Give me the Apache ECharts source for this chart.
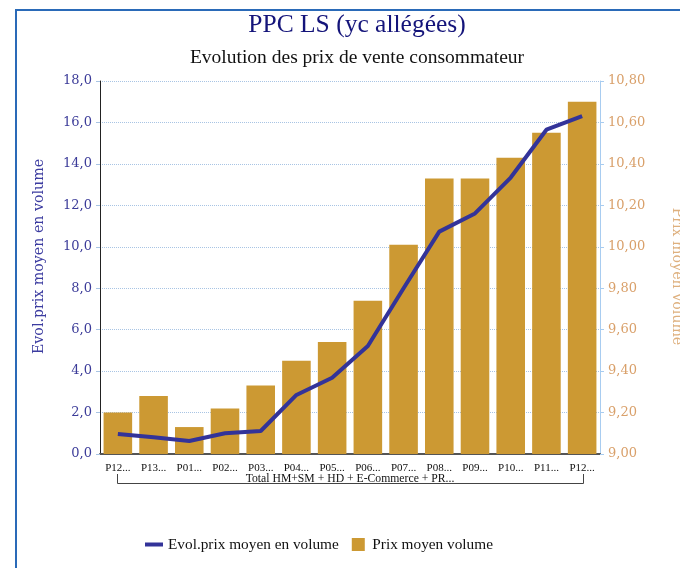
<!DOCTYPE html>
<html><head><meta charset="utf-8">
<script src="https://cdn.jsdelivr.net/npm/echarts@6/dist/echarts.min.js"></script>
<style>html,body{margin:0;padding:0;background:#fff}#c{width:680px;height:568px}</style>
</head><body><div id="c"></div>
<script>
var categories = ['P12...','P13...','P01...','P02...','P03...','P04...','P05...','P06...','P07...','P08...','P09...','P10...','P11...','P12...'];
var groupLabel = ['Total HM+SM + HD + E-Commerce + PR...'];
var evolPrix = [0.97, 0.81, 0.63, 1.0, 1.11, 2.85, 3.68, 5.21, 8.0, 10.73, 11.61, 13.34, 15.65, 16.31];
var prixMoyen = [9.20, 9.28, 9.13, 9.22, 9.33, 9.45, 9.54, 9.74, 10.01, 10.33, 10.33, 10.43, 10.55, 10.70];
var leftTicks = {min: 0, max: 18, interval: 2};
var rightTicks = {min: 9, max: 10.8, interval: 0.2};

var chart = echarts.init(document.getElementById('c'), null, {renderer: 'canvas'});
var serifW = 'DejaVu Serif';
var serifT = 'Liberation Serif';
chart.setOption({
  animation: false,
  backgroundColor: '#fff',
  title: [
    {text: 'PPC LS (yc allégées)', left: 352, top: 7, textAlign: 'center',
     textStyle: {fontFamily: serifT, fontSize: 25.5, fontWeight: 'normal', color: '#14147a'}},
    {text: 'Evolution des prix de vente consommateur', left: 352, top: 43, textAlign: 'center',
     textStyle: {fontFamily: serifT, fontSize: 19.5, fontWeight: 'normal', color: '#111'}}
  ],
  graphic: [
    {type: 'rect', shape: {x: 16, y: 10, width: 700, height: 600}, style: {fill: null, stroke: '#2a6ab8', lineWidth: 2}, silent: true},
    {type: 'line', shape: {x1: 117.5, y1: 474, x2: 117.5, y2: 483.5}, style: {stroke: '#444', lineWidth: 1}},
    {type: 'line', shape: {x1: 117.5, y1: 483.5, x2: 583.5, y2: 483.5}, style: {stroke: '#444', lineWidth: 1}, z: 1},
    {type: 'line', shape: {x1: 583.5, y1: 474, x2: 583.5, y2: 483.5}, style: {stroke: '#444', lineWidth: 1}}
  ],
  legend: {
    bottom: 11, left: 140, itemGap: 13, itemWidth: 18, itemHeight: 13,
    textStyle: {fontFamily: serifT, fontSize: 15.3, color: '#111'},
    data: [
      {name: 'Evol.prix moyen en volume', icon: 'path://M0,0H18V4H0Z'},
      {name: 'Prix moyen volume', icon: 'path://M0,0H13V13H0Z'}
    ]
  },
  grid: {left: 100, right: 80, top: 81, bottom: 114, outerBoundsMode: 'none', containLabel: false},
  xAxis: [
    {type: 'category', data: categories, position: 'bottom',
     axisLine: {lineStyle: {color: '#555', width: 2}}, axisTick: {show: false},
     axisLabel: {fontFamily: serifT, fontSize: 11, color: '#111', margin: 9, interval: 0}},
    {type: 'category', data: groupLabel, position: 'bottom', offset: 19,
     axisLine: {show: false}, axisTick: {show: false},
     axisLabel: {fontFamily: serifT, fontSize: 11.7, color: '#111', backgroundColor: '#fff', padding: [0, 3, 0, 3], margin: 0}}
  ],
  yAxis: [
    {type: 'value', min: leftTicks.min, max: leftTicks.max, interval: leftTicks.interval, position: 'left',
     name: 'Evol.prix moyen en volume', nameLocation: 'middle', nameGap: 54,
     nameTextStyle: {fontFamily: serifW, fontSize: 14.2, color: '#3c3ca0', padding: [0, 0, 0, 22]},
     axisLine: {show: true, lineStyle: {color: '#222', width: 1}},
     axisTick: {show: true, inside: false, length: 4, lineStyle: {color: '#a8c4e4'}},
     axisLabel: {fontFamily: serifW, fontSize: 13, color: '#3c3c99', margin: 8,
       formatter: function (v) { return v.toFixed(1).replace('.', ','); }},
     splitLine: {show: true, lineStyle: {color: '#a8c4e4', type: 'dotted', width: 1}}},
    {type: 'value', min: rightTicks.min, max: rightTicks.max, interval: rightTicks.interval, position: 'right',
     name: 'Prix moyen volume', nameLocation: 'middle', nameGap: 70, nameRotate: -90,
     nameTextStyle: {fontFamily: serifW, fontSize: 14.2, color: '#deb07e', padding: [0, 0, 0, 18]},
     axisLine: {show: true, lineStyle: {color: '#a8ccf0', width: 1}},
     axisTick: {show: true, length: 4, lineStyle: {color: '#a8ccf0'}},
     axisLabel: {fontFamily: serifW, fontSize: 13, color: '#d9a06a', margin: 8,
       formatter: function (v) { return v.toFixed(2).replace('.', ','); }},
     splitLine: {show: false}}
  ],
  series: [
    {name: 'Prix moyen volume', type: 'bar', xAxisIndex: 0, yAxisIndex: 1, data: prixMoyen,
     barCategoryGap: '20%', itemStyle: {color: '#cc9933'}, z: 2},
    {name: 'Evol.prix moyen en volume', type: 'line', xAxisIndex: 0, yAxisIndex: 0, data: evolPrix,
     symbol: 'none', lineStyle: {color: '#333399', width: 4}, itemStyle: {color: '#333399'}, z: 3}
  ]
});
</script></body></html>
